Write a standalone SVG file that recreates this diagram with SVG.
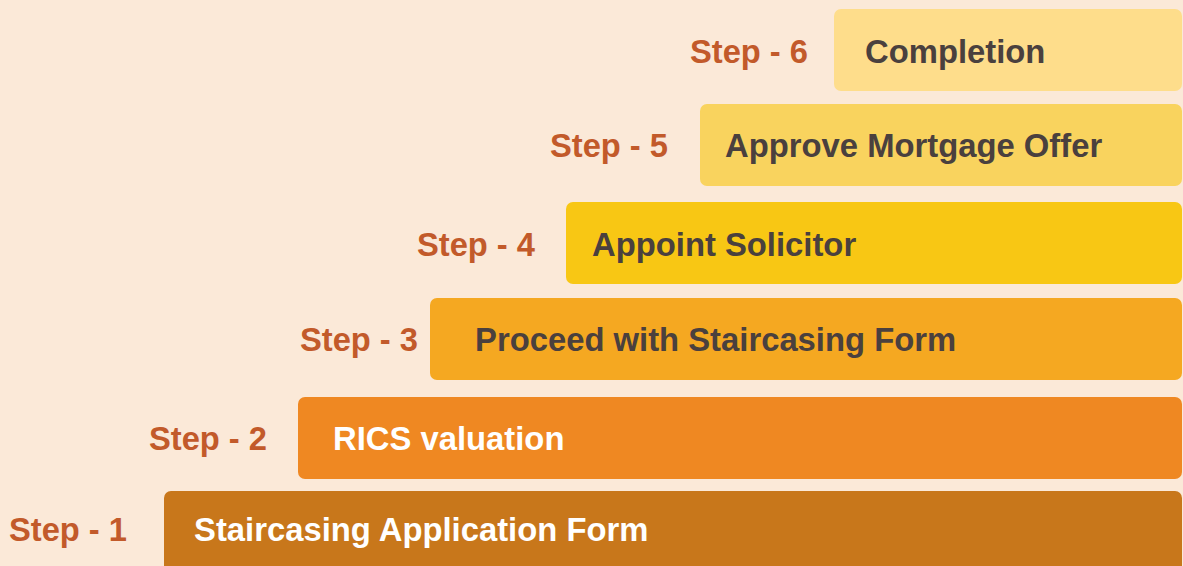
<svg xmlns="http://www.w3.org/2000/svg" width="1183" height="566" viewBox="0 0 1183 566">
  <style>
    .bar { stroke: none; }
    .step { font-family: "Liberation Sans", Arial, sans-serif; font-weight: bold; font-size: 32.7px; fill: #C25A2A; text-anchor: end; }
    .label { font-family: "Liberation Sans", Arial, sans-serif; font-weight: bold; font-size: 32.8px; }
    .dark { fill: #4A403E; }
    .light { fill: #FFFFFF; }
  </style>
  <rect x="0" y="0" width="1183" height="566" fill="#FBE9D8"/>

  <g id="step6">
    <rect class="bar" x="834" y="9" width="348" height="82" rx="7" fill="#FEDD8B"/>
    <text class="step" x="808" y="63">Step - 6</text>
    <text class="label dark" x="865" y="63">Completion</text>
  </g>

  <g id="step5">
    <rect class="bar" x="700" y="104" width="482" height="82" rx="7" fill="#F9D35E"/>
    <text class="step" x="668" y="157">Step - 5</text>
    <text class="label dark" x="725" y="157">Approve Mortgage Offer</text>
  </g>

  <g id="step4">
    <rect class="bar" x="566" y="202" width="616" height="82" rx="7" fill="#F8C714"/>
    <text class="step" x="535" y="256">Step - 4</text>
    <text class="label dark" x="592" y="256">Appoint Solicitor</text>
  </g>

  <g id="step3">
    <rect class="bar" x="430" y="298" width="752" height="82" rx="7" fill="#F5A821"/>
    <text class="step" x="418" y="351">Step - 3</text>
    <text class="label dark" x="475" y="351">Proceed with Staircasing Form</text>
  </g>

  <g id="step2">
    <rect class="bar" x="298" y="397" width="884" height="82" rx="7" fill="#EF8822"/>
    <text class="step" x="267" y="450">Step - 2</text>
    <text class="label light" x="333" y="450">RICS valuation</text>
  </g>

  <g id="step1">
    <rect class="bar" x="164" y="491" width="1018" height="90" rx="7" fill="#C8771B"/>
    <text class="step" x="127" y="541">Step - 1</text>
    <text class="label light" x="194" y="541">Staircasing Application Form</text>
  </g>

  <g id="connectors"/>
</svg>
